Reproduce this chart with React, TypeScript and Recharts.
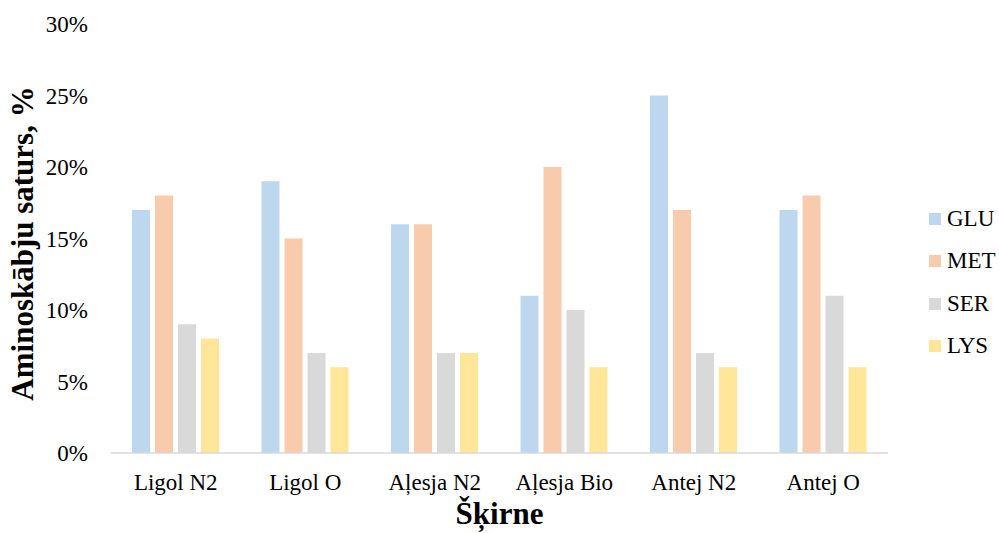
import { Bar, BarChart, Label, XAxis, YAxis } from "recharts"

const cultivars = ["Ligol N2", "Ligol O", "Aļesja N2", "Aļesja Bio", "Antej N2", "Antej O"]
const glu = [17, 19, 16, 11, 25, 17]
const met = [18, 15, 16, 20, 17, 18]
const ser = [9, 7, 7, 10, 7, 11]
const lys = [8, 6, 7, 6, 6, 6]
const yTicks = [0, 5, 10, 15, 20, 25, 30]

const series = [
  { key: "GLU", color: "#BDD7EE" },
  { key: "MET", color: "#F8CBAD" },
  { key: "SER", color: "#D9D9D9" },
  { key: "LYS", color: "#FFE699" },
]

const data = cultivars.map((name, i) => ({
  name,
  GLU: glu[i],
  MET: met[i],
  SER: ser[i],
  LYS: lys[i],
}))

const font = "'Liberation Serif', 'Times New Roman', serif"

// legend sits to the right of the plot, stacked vertically
const LegendList = () => (
  <div
    style={{
      position: "absolute",
      left: 929,
      top: 198,
      fontFamily: font,
      fontSize: 23,
      color: "#000",
    }}
  >
    {series.map((s) => (
      <div key={s.key} style={{ display: "flex", alignItems: "center", height: 42.3 }}>
        <span style={{ width: 12, height: 12, background: s.color, marginRight: 6 }} />
        <span>{s.key}</span>
      </div>
    ))}
  </div>
)

const App = () => {
  return (
    <div style={{ position: "absolute", left: 0, top: 0, width: 999, height: 533, background: "#fff" }}>
      <BarChart
        width={999}
        height={533}
        data={data}
        margin={{ top: 24, right: 111, bottom: 0, left: 0 }}
        barGap={5}
        barSize={18}
      >
        <XAxis
          dataKey="name"
          height={80}
          tickLine={false}
          tickSize={0}
          tickMargin={21}
          axisLine={{ stroke: "#D9D9D9", strokeWidth: 1.5 }}
          tick={{ fill: "#000", fontSize: 23, fontFamily: font }}
          interval={0}
        >
          <Label
            value="Šķirne"
            position="insideBottom"
            offset={9}
            style={{ fill: "#000", fontSize: 31, fontWeight: "bold", fontFamily: font }}
          />
        </XAxis>
        <YAxis
          width={111}
          domain={[0, 30]}
          ticks={yTicks}
          tickFormatter={(v: number) => `${v}%`}
          tickLine={false}
          tickSize={0}
          tickMargin={23}
          axisLine={false}
          tick={{ fill: "#000", fontSize: 23, fontFamily: font }}
        >
          <Label
            value="Aminoskābju saturs, %"
            angle={-90}
            position="insideLeft"
            offset={22}
            dy={5}
            style={{ textAnchor: "middle", fill: "#000", fontSize: 31, fontWeight: "bold", fontFamily: font }}
          />
        </YAxis>
        {series.map((s) => (
          <Bar key={s.key} dataKey={s.key} fill={s.color} isAnimationActive={false} />
        ))}
      </BarChart>
      <LegendList />
    </div>
  )
}

export default App
